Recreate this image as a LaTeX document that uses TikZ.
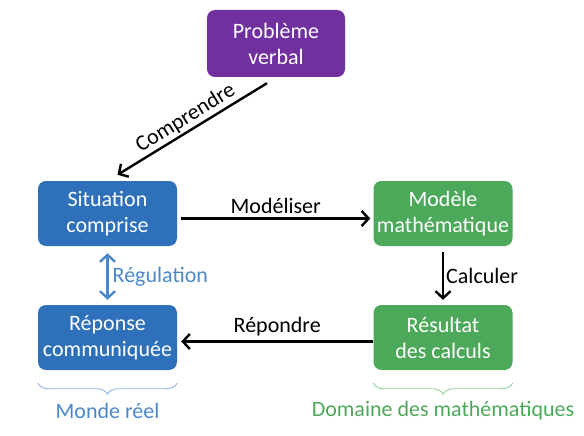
\documentclass[tikz,border=0pt]{standalone}
\usepackage{fontspec}
\setmainfont{Carlito}
\usetikzlibrary{arrows.meta,decorations.pathreplacing}
\definecolor{probviolet}{HTML}{7030A0}
\definecolor{reelbleu}{HTML}{2E70BA}
\definecolor{mathvert}{HTML}{4DA95A}
\definecolor{regbleu}{HTML}{4A88CC}
\definecolor{accbleu}{HTML}{8FB6E0}
\definecolor{accvert}{HTML}{92D09C}
\tikzset{
  boite/.style={rectangle, rounded corners=8pt, minimum width=139pt, minimum height=65pt, align=center, text=white, font=\fontsize{22}{26}\selectfont},
  pointe/.tip={Straight Barb[length=7pt,width=15pt]},
  fleche/.style={-pointe, line width=2.4pt},
  etiq/.style={font=\fontsize{22}{26}\selectfont},
  accolade/.style={decorate, decoration={brace, amplitude=11pt}, line width=0.9pt}
}
\begin{document}
\begin{tikzpicture}[x=1pt,y=-1pt]
\useasboundingbox (0,0) rectangle (584,436);
% boites
\node[boite, fill=probviolet, minimum width=138pt, minimum height=67pt] (prob) at (276,43.5) {Problème\\verbal};
\node[boite, fill=reelbleu] (situation) at (107.5,213.5) {Situation\\comprise};
\node[boite, fill=reelbleu] (reponse) at (107.5,337.5) {Réponse\\communiquée};
\node[boite, fill=mathvert] (modele) at (443,213.5) {Modèle\\mathématique};
\node[boite, fill=mathvert] (resultat) at (443,337.5) {Résultat\\des calculs};
% fleches
\draw[fleche, pointe-] ([shift={(10pt,6pt)}]situation.north) -- ([shift={(-9pt,-6pt)}]prob.south)
    node[etiq, midway, sloped, above, inner sep=2pt] {Comprendre};
\draw[fleche] ([shift={(4pt,-5pt)}]situation.east) -- ([shift={(-3pt,-5pt)}]modele.west)
    node[etiq, midway, above, inner sep=4pt] {Modéliser};
\draw[fleche] ([yshift=-6pt]modele.south) -- ([yshift=5pt]resultat.north)
    node[etiq, midway, right, inner sep=2pt] {Calculer};
\draw[fleche] ([shift={(0pt,-4pt)}]resultat.west) -- ([shift={(4pt,-4pt)}]reponse.east)
    node[etiq, midway, above, inner sep=4pt] {Répondre};
\draw[fleche, regbleu, pointe-pointe] ([yshift=-7pt]situation.south) -- ([yshift=5pt]reponse.north)
    node[etiq, midway, right, inner sep=4pt, text=regbleu] {Régulation};
% accolades
\draw[accolade, accbleu] ([yshift=-13pt]reponse.south east) -- ([yshift=-13pt]reponse.south west);
\draw[accolade, accvert] ([yshift=-13pt]resultat.south east) -- ([yshift=-13pt]resultat.south west);
\node[etiq, text=regbleu] (monde) at (107.5,411) {Monde réel};
\node[etiq, text=mathvert] (domaine) at (443,411) {Domaine des mathématiques};
\end{tikzpicture}
\end{document}
